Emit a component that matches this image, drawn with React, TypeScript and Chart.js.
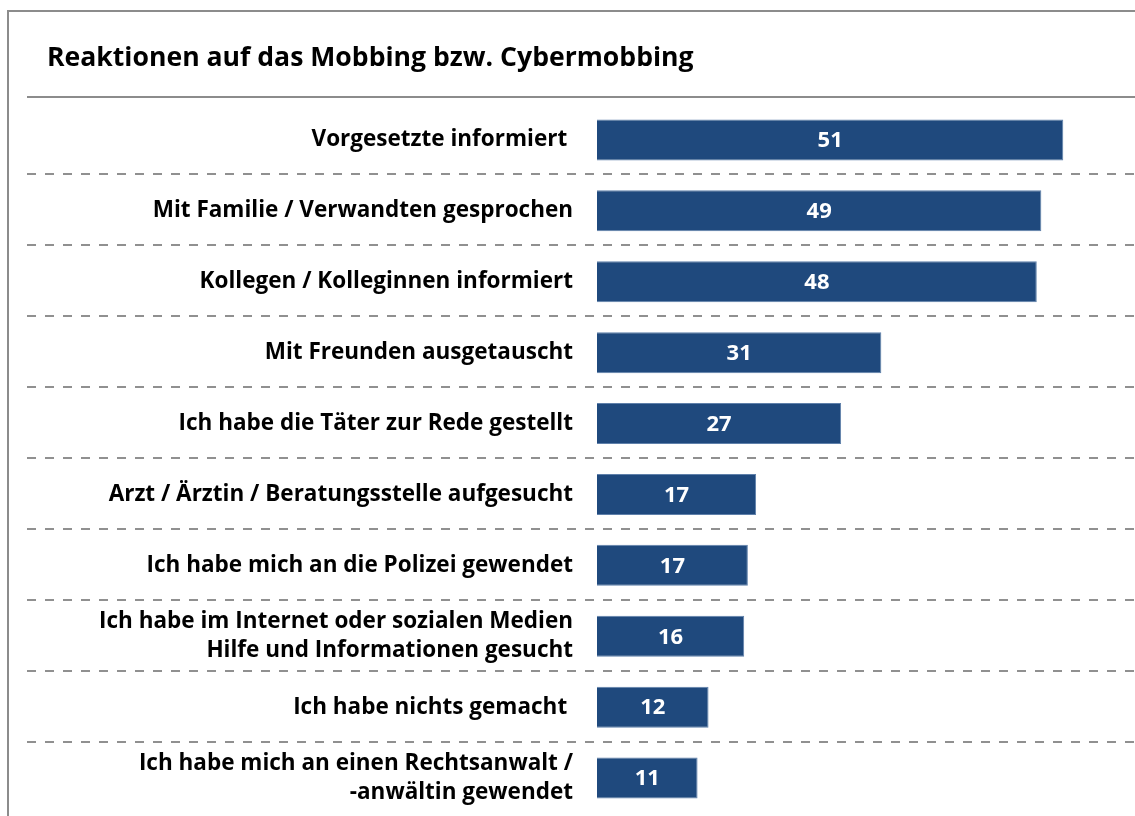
import React, { useEffect, useRef } from "react";
import { Chart, registerables } from "chart.js";

Chart.register(...registerables);

const TITLE = "Reaktionen auf das Mobbing bzw. Cybermobbing";

const categories: (string | string[])[] = [
  "Vorgesetzte informiert ",
  "Mit Familie / Verwandten gesprochen",
  "Kollegen / Kolleginnen informiert",
  "Mit Freunden ausgetauscht",
  "Ich habe die Täter zur Rede gestellt",
  "Arzt / Ärztin / Beratungsstelle aufgesucht",
  "Ich habe mich an die Polizei gewendet",
  ["Ich habe im Internet oder sozialen Medien", "Hilfe und Informationen gesucht"],
  "Ich habe nichts gemacht ",
  ["Ich habe mich an einen Rechtsanwalt /", "-anwältin gewendet"],
];

const values = [51.0, 48.6, 48.1, 31.1, 26.7, 17.4, 16.5, 16.1, 12.2, 11.0];
const valueLabels = ["51", "49", "48", "31", "27", "17", "17", "16", "12", "11"];

const FONT = "'Open Sans'";
const BAR_COLOR = "#1F497D";
const GRAY = "#8c8c8c";

const decorPlugin = {
  id: "decor",
  beforeDraw(chart: any) {
    const ctx = chart.ctx as CanvasRenderingContext2D;
    const W = chart.width;
    const H = chart.height;
    ctx.save();
    // frame (left + top)
    ctx.strokeStyle = GRAY;
    ctx.lineWidth = 2;
    ctx.setLineDash([]);
    ctx.beginPath();
    ctx.moveTo(8, H);
    ctx.lineTo(8, 11);
    ctx.lineTo(W, 11);
    ctx.stroke();
    // title
    ctx.fillStyle = "#000";
    ctx.font = `bold 26.6px ${FONT}`;
    ctx.textAlign = "left";
    ctx.textBaseline = "alphabetic";
    ctx.fillText(TITLE, 47, 66);
    // rule under title
    ctx.beginPath();
    ctx.moveTo(27, 97);
    ctx.lineTo(W, 97);
    ctx.stroke();
    // dashed separators between categories
    const ys = chart.scales.y;
    ctx.setLineDash([9, 9]);
    ctx.strokeStyle = "#909090";
    for (let i = 0; i < categories.length - 1; i++) {
      const py = Math.round((ys.getPixelForValue(i) + ys.getPixelForValue(i + 1)) / 2) - 1;
      ctx.beginPath();
      ctx.moveTo(27, py);
      ctx.lineTo(W, py);
      ctx.stroke();
    }
    ctx.restore();
  },
  afterDatasetsDraw(chart: any) {
    const ctx = chart.ctx as CanvasRenderingContext2D;
    const meta = chart.getDatasetMeta(0);
    ctx.save();
    ctx.fillStyle = "#fff";
    ctx.font = `bold 22px ${FONT}`;
    ctx.textAlign = "center";
    ctx.textBaseline = "middle";
    meta.data.forEach((bar: any, i: number) => {
      ctx.fillText(valueLabels[i], (bar.x + bar.base) / 2, bar.y + 1);
    });
    ctx.restore();
  },
};

export default function App() {
  const ref = useRef<HTMLCanvasElement | null>(null);
  useEffect(() => {
    if (!ref.current) return;
    const chart = new Chart(ref.current, {
      type: "bar",
      data: {
        labels: categories as any,
        datasets: [
          {
            data: values,
            backgroundColor: BAR_COLOR,
            borderColor: "#5f80aa",
            borderWidth: 1,
            barPercentage: 0.578,
            categoryPercentage: 1,
          },
        ],
      },
      options: {
        indexAxis: "y",
        animation: false,
        responsive: false,
        devicePixelRatio: 1,
        layout: { padding: { top: 104.5, bottom: 2.5, left: 0, right: 26 } },
        plugins: {
          legend: { display: false },
          title: { display: false },
          tooltip: { enabled: false },
        },
        scales: {
          x: { display: false, min: 0, max: 56 },
          y: {
            grid: { display: false, drawTicks: false, tickLength: 0 },
            border: { display: false },
            ticks: {
              padding: 24,
              color: "#000",
              autoSkip: false,
              font: { family: FONT, weight: "bold", size: 22.5, lineHeight: 1.27 },
            },
            afterFit(scale: any) {
              scale.width = 597;
              scale.paddingTop = 0;
              scale.paddingBottom = 0;
            },
          },
        },
      },
      plugins: [decorPlugin],
    });
    return () => chart.destroy();
  }, []);
  return (
    <div style={{ position: "fixed", left: 0, top: 0, width: 1135, height: 816, background: "#fff" }}>
      <canvas ref={ref} width={1135} height={816} />
    </div>
  );
}
